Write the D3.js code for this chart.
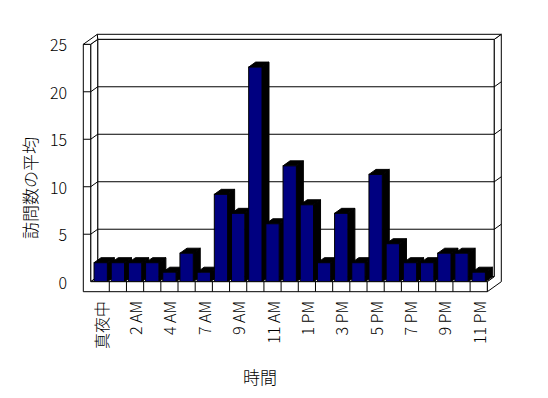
<!DOCTYPE html>
<html>
<head>
<meta charset="utf-8">
<script src="https://cdn.jsdelivr.net/npm/d3@7"></script>
<style>
  body { margin: 0; background: #fff; }
  text { font-family: "Noto Sans CJK JP", sans-serif; font-weight: 300; fill: #000; }
</style>
</head>
<body>
<script>
var categories = ["真夜中", "1 AM", "2 AM", "3 AM", "4 AM", "5 AM", "7 AM", "8 AM", "9 AM", "10 AM",
                  "11 AM", "12 PM", "1 PM", "2 PM", "3 PM", "4 PM", "5 PM", "6 PM", "7 PM", "8 PM",
                  "9 PM", "10 PM", "11 PM"];
var visits = [2, 2, 2, 2, 1, 3, 1, 9.2, 7.2, 22.6, 6.1, 12.2, 8.1, 2, 7.2, 2, 11.3, 4, 2, 2, 3, 3, 1];
var yTicks = [0, 5, 10, 15, 20, 25];
var yTitle = "訪問数の平均";
var xTitle = "時間";

var width = 548;
var height = 398;
var plotLeft = 92.1, plotRight = 487.3;   // front plane of the plot
var plotTop = 44.3, plotBottom = 281.7;
var dx = 7, dy = -5;              // inner depth
var wall = 7.4;                   // wall thickness on the front face
var floorH = 10;

var svg = d3.select("body").append("svg")
            .attr("width", width)
            .attr("height", height);

var xScale = d3.scaleBand().domain(categories).range([plotLeft, plotRight]).padding(0);
var yScale = d3.scaleLinear().domain([0, 25]).range([plotBottom, plotTop]);
var barW = xScale.bandwidth() * 0.775;

var lx = plotLeft - 1.4;          // inner edge of the left wall
var lx0 = lx - wall;              // outer edge of the left wall
var ax = plotRight + dx;          // right edge of back wall front face

var pts = function(a) { return a.map(function(p) { return p.join(","); }).join(" "); };
var stroke = function(sel) { return sel.attr("fill", "#fff").attr("stroke", "#000").attr("stroke-width", 1); };

// back wall front face
stroke(svg.append("rect").attr("x", lx + dx).attr("y", plotTop + dy)
          .attr("width", ax - lx - dx).attr("height", plotBottom - plotTop));
// left wall inner face
stroke(svg.append("polygon").attr("points", pts([
    [lx, plotTop], [lx + dx, plotTop + dy], [lx + dx, plotBottom + dy], [lx, plotBottom]])));
// floor top face
stroke(svg.append("polygon").attr("points", pts([
    [lx, plotBottom], [lx + dx, plotBottom + dy], [ax, plotBottom + dy], [plotRight, plotBottom]])));
// right end of walls / floor
stroke(svg.append("polygon").attr("points", pts([
    [plotRight, plotBottom], [plotRight, plotBottom + floorH], [ax + dx, plotBottom + floorH + 2 * dy],
    [ax + dx, plotTop + 2 * dy], [ax, plotTop + dy], [ax, plotBottom + dy]])));
// top of back wall
stroke(svg.append("polygon").attr("points", pts([
    [lx + dx, plotTop + dy], [lx0 + 2 * dx, plotTop + 2 * dy], [ax + dx, plotTop + 2 * dy], [ax, plotTop + dy]])));

// gridlines
var grid = svg.append("g").attr("stroke", "#000").attr("fill", "none");
yTicks.filter(function(v) { return v > 0 && v < 25; }).forEach(function(v) {
    var y = yScale(v);
    grid.append("polyline").attr("points", pts([
        [lx, y], [lx + dx, y + dy], [ax, y + dy], [ax + dx, y + 2 * dy]]));
});

// bars
categories.forEach(function(c, i) {
    var x0 = xScale(c) + (xScale.bandwidth() - barW) / 2;
    var x1 = x0 + barW;
    var yt = yScale(visits[i]);
    var g = svg.append("g");
    g.append("polygon").attr("points", pts([[x1, yt], [x1 + dx, yt + dy], [x1 + dx, plotBottom + dy], [x1, plotBottom]]))
     .attr("fill", "#000").attr("stroke", "#000");
    g.append("polygon").attr("points", pts([[x0, yt], [x0 + dx, yt + dy], [x1 + dx, yt + dy], [x1, yt]]))
     .attr("fill", "#000").attr("stroke", "#000");
    g.append("rect").attr("x", x0).attr("y", yt).attr("width", barW).attr("height", plotBottom - yt)
     .attr("fill", "#000080").attr("stroke", "#000");
});

// front faces of left wall and floor
stroke(svg.append("polygon").attr("points", pts([
    [lx0, plotTop], [lx, plotTop], [lx, plotBottom], [plotRight, plotBottom],
    [plotRight, plotBottom + floorH], [lx0, plotBottom + floorH]])));
stroke(svg.append("polygon").attr("points", pts([
    [lx0, plotTop], [lx0 + 2 * dx, plotTop + 2 * dy], [lx + dx, plotTop + dy], [lx, plotTop]])));

// value ticks on the left wall
yTicks.filter(function(v) { return v > 0 && v < 25; }).forEach(function(v) {
    svg.append("line").attr("x1", lx0).attr("x2", lx).attr("y1", yScale(v)).attr("y2", yScale(v))
       .attr("stroke", "#000");
});
// category ticks on the floor
categories.slice(1).forEach(function(c) {
    svg.append("line").attr("x1", xScale(c)).attr("x2", xScale(c))
       .attr("y1", plotBottom).attr("y2", plotBottom + floorH).attr("stroke", "#000");
});

// y labels
svg.append("g").selectAll("text").data(yTicks).enter().append("text")
   .attr("x", 67).attr("y", function(d) { return yScale(d); })
   .attr("text-anchor", "end").attr("dominant-baseline", "central")
   .style("font-size", "16px")
   .text(function(d) { return d; });

// x labels, every other category
svg.append("g").selectAll("text")
   .data(categories.filter(function(d, i) { return i % 2 === 0; }))
   .enter().append("text")
   .attr("transform", function(d) {
       return "translate(" + (xScale(d) + xScale.bandwidth() / 2) + ",301) rotate(-90)";
   })
   .attr("text-anchor", "end").attr("dominant-baseline", "central")
   .style("font-size", "16px")
   .text(function(d) { return d; });

// titles
svg.append("text").attr("transform", "translate(29,188) rotate(-90)")
   .attr("text-anchor", "middle").attr("dominant-baseline", "central")
   .style("font-size", "17px").text(yTitle);
svg.append("text").attr("x", 260).attr("y", 376)
   .attr("text-anchor", "middle").attr("dominant-baseline", "central")
   .style("font-size", "17px").text(xTitle);
</script>
</body>
</html>
